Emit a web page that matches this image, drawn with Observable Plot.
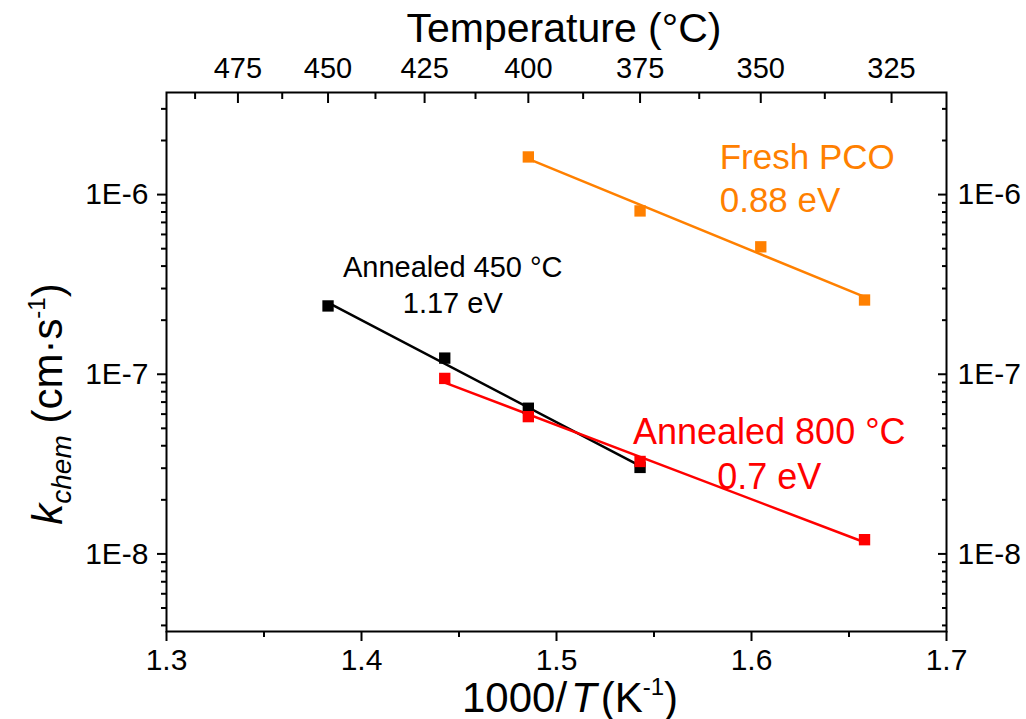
<!DOCTYPE html>
<html>
<head>
<meta charset="utf-8">
<script src="https://cdn.jsdelivr.net/npm/d3@7"></script>
<script src="https://cdn.jsdelivr.net/npm/@observablehq/plot@0.6"></script>
<style>
  html, body { margin: 0; padding: 0; background: #fff; overflow: hidden; }
  #chart svg { display: block; }
</style>
</head>
<body>
<div id="chart"></div>
<script>
// Surface exchange coefficient k_chem vs. inverse temperature for three samples.
const freshTempC = [400, 375, 350, 330];
const freshK = [1.62e-6, 8.11e-7, 5.12e-7, 2.59e-7];

const anneal450TempC = [450, 420, 400, 375];
const anneal450K = [2.40e-7, 1.23e-7, 6.47e-8, 3.03e-8];

const anneal800TempC = [420, 400, 375, 330];
const anneal800K = [9.48e-8, 5.81e-8, 3.27e-8, 1.20e-8];

// Axis ticks
const xTicks = [1.3, 1.4, 1.5, 1.6, 1.7];
const xMinorTicks = [1.35, 1.45, 1.55, 1.65];
const yTicks = [1e-6, 1e-7, 1e-8];
const yTickLabels = ["1E-6", "1E-7", "1E-8"];
const tempTicks = [475, 450, 425, 400, 375, 350, 325];
const tempMinorTicks = [487.5, 462.5, 437.5, 412.5, 387.5, 362.5, 337.5];

// Series labels and activation energies
const seriesNames = ["Annealed 450 °C", "Annealed 800 °C", "Fresh PCO"];
const seriesEa = ["1.17 eV", "0.7 eV", "0.88 eV"];

// ---- styling / layout ----
const FONT = "'Liberation Sans', Arial, Helvetica, sans-serif";
const colors = {"Annealed 450 °C": "#000000", "Annealed 800 °C": "#FF0000", "Fresh PCO": "#FF8000"};
const W = 1026, H = 719;
const M = {top: 92, right: 80, bottom: 88, left: 166};

const toX = (c) => 1000 / (c + 273.15);
const toC = (x) => Math.round(1000 / x - 273.15);

const seriesData = [
  {name: seriesNames[0], temps: anneal450TempC, k: anneal450K},
  {name: seriesNames[1], temps: anneal800TempC, k: anneal800K},
  {name: seriesNames[2], temps: freshTempC, k: freshK}
];

const points = seriesData.flatMap(s =>
  s.temps.map((t, i) => ({series: s.name, x: toX(t), k: s.k[i]}))
);

// Arrhenius fit: least squares of log10(k) against 1000/T, drawn over the measured range
const fits = seriesData.flatMap(s => {
  const xs = s.temps.map(toX), ys = s.k.map(Math.log10);
  const mx = d3.mean(xs), my = d3.mean(ys);
  const b = d3.sum(xs, (x, i) => (x - mx) * (ys[i] - my)) / d3.sum(xs, x => (x - mx) ** 2);
  const a = my - b * mx;
  const [x0, x1] = d3.extent(xs);
  return [x0, x1].map(x => ({series: s.name, x, k: 10 ** (a + b * x)}));
});

// Log minor ticks (2..9 per decade) inside the y domain
const yDomain = [3.7e-9, 3.7e-6];
const yMinorTicks = d3.range(-9, -5).flatMap(e => d3.range(2, 10).map(m => m * 10 ** e))
  .filter(v => v > yDomain[0] && v < yDomain[1]);

const yLabel = (d) => yTickLabels[yTicks.indexOf(d)];

// Annotation placement (text anchor point in data space)
const notes = [
  {series: seriesNames[0], x: 1.4468, k: 4.8e-7, size: 29, anchor: "middle"},
  {series: seriesNames[1], x: 1.6091, k: 6.1e-8, size: 36, anchor: "middle"},
  {series: seriesNames[2], x: 1.5837, k: 2.05e-6, size: 35, anchor: "start"}
];

const tickStroke = {stroke: "#000", strokeWidth: 2};

const chart = Plot.plot({
  width: W, height: H,
  marginTop: M.top, marginRight: M.right, marginBottom: M.bottom, marginLeft: M.left,
  style: {fontFamily: FONT, fontSize: "30px", color: "#000", background: "#fff", overflow: "visible"},
  x: {domain: [1.3, 1.7]},
  y: {type: "log", domain: yDomain},
  marks: [
    // bottom axis: 1000/T
    Plot.axisX({anchor: "bottom", ticks: xTicks, tickSize: 10, tickPadding: 7, tickFormat: d => d.toFixed(1), label: null, ...tickStroke}),
    Plot.axisX({anchor: "bottom", ticks: xMinorTicks, tickSize: 6, text: null, label: null, ...tickStroke}),
    // top axis: temperature in °C, ticks pointing inward
    Plot.axisX({anchor: "top", ticks: tempTicks.map(toX), tickSize: 10, dy: 10, text: null, label: null, ...tickStroke}),
    Plot.axisX({anchor: "top", ticks: tempMinorTicks.map(toX), tickSize: 6, dy: 6, text: null, label: null, ...tickStroke}),
    Plot.axisX({anchor: "top", ticks: tempTicks.map(toX), tickSize: 0, tickPadding: 15, tickFormat: toC, fontSize: 29, label: null}),
    // left axis
    Plot.axisY({anchor: "left", ticks: yTicks, tickSize: 9, tickPadding: 9, tickFormat: yLabel, label: null, ...tickStroke}),
    Plot.axisY({anchor: "left", ticks: yMinorTicks, tickSize: 5, text: null, label: null, ...tickStroke}),
    // right axis, ticks pointing inward
    Plot.axisY({anchor: "right", ticks: yTicks, tickSize: 9, dx: -9, text: null, label: null, ...tickStroke}),
    Plot.axisY({anchor: "right", ticks: yMinorTicks, tickSize: 5, dx: -5, text: null, label: null, ...tickStroke}),
    Plot.axisY({anchor: "right", ticks: yTicks, tickSize: 0, tickPadding: 11, tickFormat: yLabel, label: null}),
    Plot.frame({stroke: "#000", strokeWidth: 2}),
    // fitted lines and measured points
    Plot.line(fits, {x: "x", y: "k", z: "series", stroke: d => colors[d.series], strokeWidth: 2.5}),
    Plot.dot(points, {x: "x", y: "k", symbol: "square", r: 6.4, fill: d => colors[d.series], stroke: "none"}),
    // series annotations
    ...notes.map((n) => Plot.text([n], {
      x: "x", y: "k",
      text: d => `${d.series}\n${seriesEa[seriesNames.indexOf(d.series)]}`,
      fill: colors[n.series], fontSize: n.size, textAnchor: n.anchor,
      lineAnchor: "top", lineHeight: 1.23
    }))
  ]
});

// Axis titles with italic, subscript and superscript parts
const svg = d3.select(chart);
const title = (x, y, rotate) => svg.append("text")
  .attr("transform", `translate(${x},${y})${rotate ? " rotate(-90)" : ""}`)
  .attr("text-anchor", "middle")
  .attr("font-family", FONT)
  .attr("font-size", 42)
  .attr("fill", "#000");

title(564, 42, false).attr("font-size", 41).text("Temperature (°C)");

const xt = title(570, 712, false);
xt.append("tspan").text("1000/");
xt.append("tspan").attr("font-style", "italic").attr("dx", 4).text("T");
xt.append("tspan").attr("dx", 4).text("(K");
xt.append("tspan").attr("font-size", 24).attr("dy", -17).text("-1");
xt.append("tspan").attr("dy", 17).text(")");

const yt = title(62, 404, true);
yt.append("tspan").attr("font-style", "italic").text("k");
yt.append("tspan").attr("font-style", "italic").attr("font-size", 28).attr("dy", 9).text("chem");
yt.append("tspan").attr("dy", -9).text(" (cm·s");
yt.append("tspan").attr("font-size", 24).attr("dy", -17).text("-1");
yt.append("tspan").attr("dy", 17).text(")");

document.getElementById("chart").appendChild(chart);
</script>
</body>
</html>
